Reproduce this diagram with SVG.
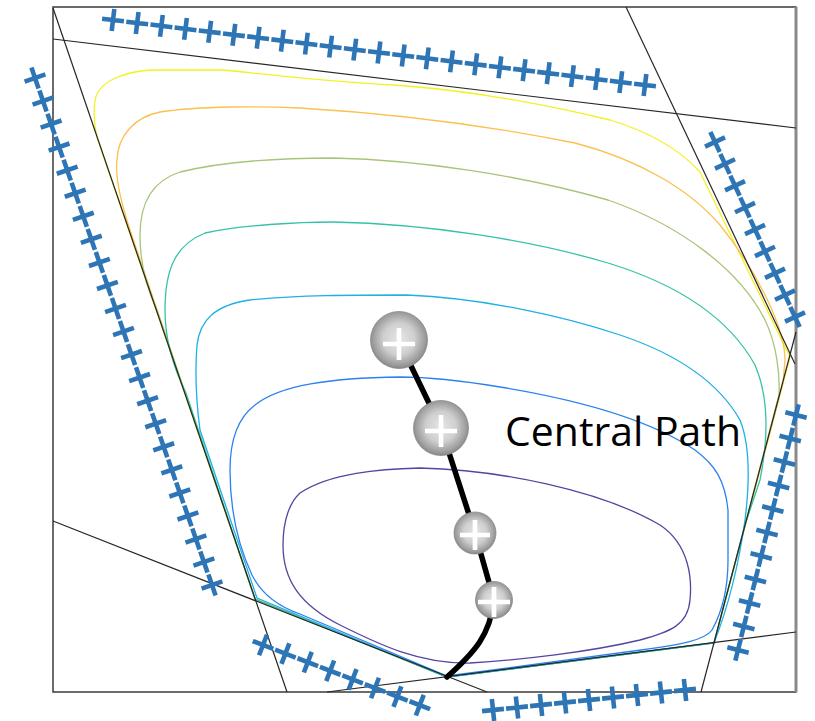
<svg xmlns="http://www.w3.org/2000/svg" xmlns:xlink="http://www.w3.org/1999/xlink" width="815" height="721" viewBox="0 0 815 721">
<style>
.frame{fill:none;stroke:#3a3a3a;stroke-width:1.5}
.cons{stroke:#262626;stroke-width:1.2;fill:none}
.ct{fill:none;stroke-width:1.3}
.pl{stroke:#2E75B6;stroke-width:4.6;fill:none}
.path{fill:none;stroke:#000;stroke-width:5.5;stroke-linecap:round;stroke-linejoin:round}
.ball{fill:url(#sph);stroke:#8c8c8c;stroke-width:0.8}
.bp{stroke:#fff;stroke-width:4.7;fill:none}
.lbl{font-family:"Open Sans","Liberation Sans",sans-serif;font-size:41px;fill:#000}
</style>
<defs>
<path id="plus" d="M-11,0H11M0,-11V11"/>
<radialGradient id="sph" cx="0.5" cy="0.48" r="0.55">
<stop offset="0" stop-color="#e6e6e6"/>
<stop offset="0.5" stop-color="#cfcfcf"/>
<stop offset="0.85" stop-color="#9a9a9a"/>
<stop offset="1" stop-color="#7a7a7a"/>
</radialGradient>
</defs>
<rect width="815" height="721" fill="#fff"/>
<g id="contours">
<path class="ct" stroke="#F2F21E" d="M97,137 C93,120 93,100 98,92 C105,80 125,72 150,70 L223,70 C250,72 300,80 407,86 C480,92 560,108 610,120 C650,132 680,150 700,172 L790,357 L714,643 L447,677 L255,599 Z"/>
<path class="ct" stroke="#FDBF4E" d="M131,233 C120,200 115,175 117,160 C118,135 135,117 160,112 C200,106 260,106 300,108 C400,114 500,128 575,143 C640,160 690,190 720,225 C760,275 785,330 785,360 L783,383 L714,643 L447,677 L255,599 Z"/>
<path class="ct" stroke="#A9C47A" d="M157,310 C145,285 140,260 140,235 C140,200 155,180 180,172 C230,160 290,158 333,158 C420,160 520,175 608,200 C680,225 740,270 765,320 C777,345 780,375 779,395 L714,643 L447,677 L255,599 Z"/>
<path class="ct" stroke="#35C3A5" d="M186,393 C172,365 165,335 165,310 C165,270 175,245 205,233 C240,225 300,222 333,222 C430,224 530,240 608,263 C680,285 730,320 755,365 C770,400 768,440 760,480 L745,525 L714,643 L447,677 L255,599 Z"/>
<path class="ct" stroke="#1FB0E4" d="M200,430 C196,400 195,370 197,345 C200,320 215,305 250,300 C300,295 350,295 407,295 C480,298 560,315 620,335 C680,355 720,385 740,420 C750,445 750,480 745,520 C738,570 725,615 714,643 L447,677 L257,598 Z"/>
<path class="ct" stroke="#2A82EE" d="M400,377 C330,378 280,385 255,405 C235,420 230,445 230,470 C230,510 238,545 252,575 C262,595 280,607 300,614 L447,676 L641,650 C680,645 705,640 712,630 C722,612 728,590 728,560 L728,510 C725,480 715,465 695,450 C650,420 580,400 500,387 C470,382 430,377 400,377 Z"/>
<path class="ct" stroke="#5545A0" d="M300,493 C330,473 380,469 420,468 C500,470 600,490 660,525 C690,545 692,580 690,600 C688,625 670,632 640,640 C590,652 520,660 470,663 C420,664 380,645 340,625 C300,605 283,580 283,545 C283,520 290,502 300,493 Z"/>
</g>
<g id="constraints">
<rect class="frame" x="53" y="7" width="743" height="685"/>
<line x1="796" y1="7" x2="796" y2="692" stroke="#8a8a8a" stroke-width="3"/>
<line class="cons" x1="53" y1="39" x2="796" y2="128"/>
<line class="cons" x1="53" y1="8" x2="287" y2="692"/>
<line class="cons" x1="626" y1="7" x2="795" y2="364"/>
<line class="cons" x1="701" y1="692" x2="796" y2="332"/>
<line class="cons" x1="53" y1="521" x2="487" y2="692"/>
<line class="cons" x1="327" y1="692" x2="796" y2="632"/>
</g>
<g id="barrier-top" class="pl">
<use href="#plus" transform="translate(113,20) rotate(7)"/>
<use href="#plus" transform="translate(137.2,23) rotate(7)"/>
<use href="#plus" transform="translate(161.4,25.9) rotate(7)"/>
<use href="#plus" transform="translate(185.5,28.9) rotate(7)"/>
<use href="#plus" transform="translate(209.7,31.8) rotate(7)"/>
<use href="#plus" transform="translate(233.9,34.8) rotate(7)"/>
<use href="#plus" transform="translate(258.1,37.7) rotate(7)"/>
<use href="#plus" transform="translate(282.3,40.7) rotate(7)"/>
<use href="#plus" transform="translate(306.4,43.6) rotate(7)"/>
<use href="#plus" transform="translate(330.6,46.6) rotate(7)"/>
<use href="#plus" transform="translate(354.8,49.6) rotate(7)"/>
<use href="#plus" transform="translate(379,52.5) rotate(7)"/>
<use href="#plus" transform="translate(403.2,55.5) rotate(7)"/>
<use href="#plus" transform="translate(427.3,58.4) rotate(7)"/>
<use href="#plus" transform="translate(451.5,61.4) rotate(7)"/>
<use href="#plus" transform="translate(475.7,64.3) rotate(7)"/>
<use href="#plus" transform="translate(499.9,67.3) rotate(7)"/>
<use href="#plus" transform="translate(524.1,70.2) rotate(7)"/>
<use href="#plus" transform="translate(548.2,73.2) rotate(7)"/>
<use href="#plus" transform="translate(572.4,76.1) rotate(7)"/>
<use href="#plus" transform="translate(596.6,79.1) rotate(7)"/>
<use href="#plus" transform="translate(620.8,82.1) rotate(7)"/>
<use href="#plus" transform="translate(645,85) rotate(7)"/>
</g>
<g id="barrier-left" class="pl">
<use href="#plus" transform="translate(35,78) rotate(-19)"/>
<use href="#plus" transform="translate(43,101) rotate(-19)"/>
<use href="#plus" transform="translate(51.1,124.1) rotate(-19)"/>
<use href="#plus" transform="translate(59.1,147.1) rotate(-19)"/>
<use href="#plus" transform="translate(67.2,170.2) rotate(-19)"/>
<use href="#plus" transform="translate(75.2,193.2) rotate(-19)"/>
<use href="#plus" transform="translate(83.3,216.3) rotate(-19)"/>
<use href="#plus" transform="translate(91.3,239.3) rotate(-19)"/>
<use href="#plus" transform="translate(99.4,262.4) rotate(-19)"/>
<use href="#plus" transform="translate(107.4,285.4) rotate(-19)"/>
<use href="#plus" transform="translate(115.5,308.5) rotate(-19)"/>
<use href="#plus" transform="translate(123.5,331.5) rotate(-19)"/>
<use href="#plus" transform="translate(131.5,354.6) rotate(-19)"/>
<use href="#plus" transform="translate(139.6,377.6) rotate(-19)"/>
<use href="#plus" transform="translate(147.6,400.7) rotate(-19)"/>
<use href="#plus" transform="translate(155.7,423.7) rotate(-19)"/>
<use href="#plus" transform="translate(163.7,446.8) rotate(-19)"/>
<use href="#plus" transform="translate(171.8,469.8) rotate(-19)"/>
<use href="#plus" transform="translate(179.8,492.9) rotate(-19)"/>
<use href="#plus" transform="translate(187.9,515.9) rotate(-19)"/>
<use href="#plus" transform="translate(195.9,539) rotate(-19)"/>
<use href="#plus" transform="translate(203.9,562) rotate(-19)"/>
<use href="#plus" transform="translate(212,585) rotate(-19)"/>
</g>
<g id="barrier-right-upper" class="pl">
<use href="#plus" transform="translate(715,142) rotate(-25)"/>
<use href="#plus" transform="translate(725,163.9) rotate(-25)"/>
<use href="#plus" transform="translate(735,185.8) rotate(-25)"/>
<use href="#plus" transform="translate(745,207.6) rotate(-25)"/>
<use href="#plus" transform="translate(755,229.5) rotate(-25)"/>
<use href="#plus" transform="translate(765,251.4) rotate(-25)"/>
<use href="#plus" transform="translate(775,273.3) rotate(-25)"/>
<use href="#plus" transform="translate(785,295.1) rotate(-25)"/>
<use href="#plus" transform="translate(795,317) rotate(-25)"/>
</g>
<g id="barrier-right-lower" class="pl">
<use href="#plus" transform="translate(796,415) rotate(14)"/>
<use href="#plus" transform="translate(790.2,438.5) rotate(14)"/>
<use href="#plus" transform="translate(784.4,462) rotate(14)"/>
<use href="#plus" transform="translate(778.6,485.5) rotate(14)"/>
<use href="#plus" transform="translate(772.8,509) rotate(14)"/>
<use href="#plus" transform="translate(767,532.5) rotate(14)"/>
<use href="#plus" transform="translate(761.2,556) rotate(14)"/>
<use href="#plus" transform="translate(755.4,579.5) rotate(14)"/>
<use href="#plus" transform="translate(749.6,603) rotate(14)"/>
<use href="#plus" transform="translate(743.8,626.5) rotate(14)"/>
<use href="#plus" transform="translate(738,650) rotate(14)"/>
</g>
<g id="barrier-bottom-left" class="pl">
<use href="#plus" transform="translate(263,645) rotate(21)"/>
<use href="#plus" transform="translate(285.4,653.6) rotate(21)"/>
<use href="#plus" transform="translate(307.8,662.2) rotate(21)"/>
<use href="#plus" transform="translate(330.2,670.8) rotate(21)"/>
<use href="#plus" transform="translate(352.6,679.4) rotate(21)"/>
<use href="#plus" transform="translate(375,688) rotate(21)"/>
<use href="#plus" transform="translate(397.4,696.6) rotate(21)"/>
<use href="#plus" transform="translate(419.8,705.2) rotate(21)"/>
</g>
<g id="barrier-bottom-right" class="pl">
<use href="#plus" transform="translate(493,710) rotate(-6)"/>
<use href="#plus" transform="translate(517,707.5) rotate(-6)"/>
<use href="#plus" transform="translate(541,705) rotate(-6)"/>
<use href="#plus" transform="translate(565,702.5) rotate(-6)"/>
<use href="#plus" transform="translate(589,700) rotate(-6)"/>
<use href="#plus" transform="translate(613,697.5) rotate(-6)"/>
<use href="#plus" transform="translate(637,695) rotate(-6)"/>
<use href="#plus" transform="translate(661,692.5) rotate(-6)"/>
<use href="#plus" transform="translate(685,690) rotate(-6)"/>
</g>
<g id="central-path">
<path class="path" d="M399,341 L441,428 L475,533 L494,600 C490,635 475,652 447,677"/>
</g>
<g id="point1"><circle class="ball" cx="399" cy="340" r="28.5"/><path class="bp" d="M383,344H415M399,328V360"/></g>
<g id="point2"><circle class="ball" cx="441" cy="428" r="27.5"/><path class="bp" d="M425,431H457M441,415V447"/></g>
<g id="point3"><circle class="ball" cx="475" cy="533" r="21"/><path class="bp" d="M460,535H490M475,520V550"/></g>
<g id="point4"><circle class="ball" cx="494" cy="600" r="18.5"/><path class="bp" d="M478,602H510M494,587V617"/></g>
<g id="label"><text class="lbl" x="505" y="446" textLength="236" lengthAdjust="spacingAndGlyphs">Central Path</text></g>
</svg>
